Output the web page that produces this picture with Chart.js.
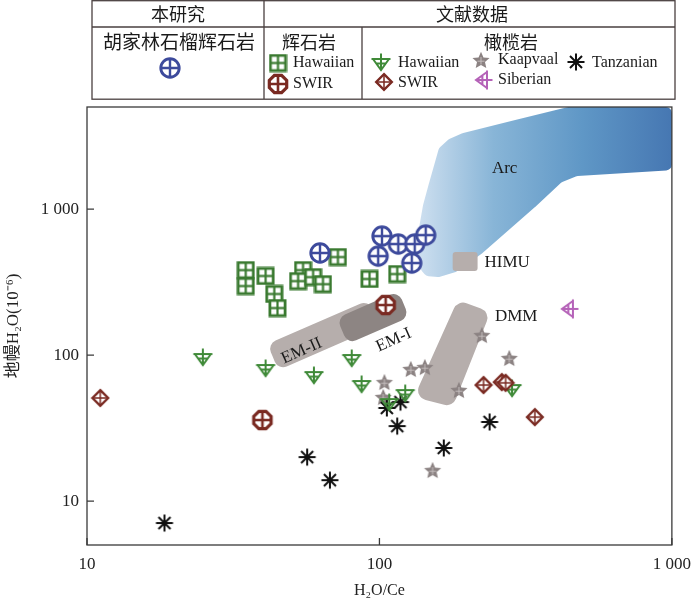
<!DOCTYPE html>
<html>
<head>
<meta charset="utf-8">
<script src="https://cdn.jsdelivr.net/npm/chart.js@4.4.1/dist/chart.umd.min.js"></script>
<style>
  html, body { margin: 0; padding: 0; background: #fff; }
  #wrap { width: 700px; height: 603px; }
</style>
</head>
<body>
<div id="wrap"><canvas id="chart" width="700" height="603"></canvas></div>
<script>
// tick labels
const xTicks = [10, 100, 1000];
const yTicks = [10, 100, 1000];
const tickText = { 10: '10', 100: '100', 1000: '1 000' };

// 本研究 胡家林石榴辉石岩
const thisStudyX = [62.6, 102, 116, 132, 144, 99, 129];
const thisStudyY = [500, 653, 576, 576, 663, 476, 427];

// 辉石岩 Hawaiian / SWIR
const pyxHawX = [34.9, 34.9, 40.8, 43.7, 44.8, 54.8, 52.7, 59.3, 64.1, 72.1, 92.5, 115];
const pyxHawY = [382, 297, 348, 262, 210, 382, 321, 342, 306, 469, 332, 359];
const pyxSwirX = [105, 39.8];
const pyxSwirY = [220, 35.9];

// 橄榄岩
const periHawX = [24.9, 40.8, 59.7, 80.4, 86.9, 122.5, 284, 108];
const periHawY = [96.9, 81.5, 72.9, 95.4, 63.3, 54.9, 59.4, 47.6];
const periSwirX = [11.1, 227, 262, 270, 340];
const periSwirY = [50.8, 62.3, 65.3, 64.5, 37.6];
const kaapX = [224, 278, 128, 143, 104, 103, 187, 152];
const kaapY = [137, 95.4, 80.2, 82.7, 65.3, 51.6, 57.6, 16.3];
const sibX = [448];
const sibY = [207];
const tanzX = [18.4, 56.6, 67.7, 106, 118, 115, 238, 166];
const tanzY = [7.07, 20.0, 13.9, 43.4, 47.6, 32.6, 34.8, 23.1];

// reservoir fields (data space)
const arcX = [138.8, 134.5, 135.6, 141.0, 147.8, 159.8, 172.8, 192.7, 291.3, 440.8, 1000, 1000, 472.8, 420.5, 340.6, 269.5, 225.2, 182.4, 159.8, 144.3];
const arcY = [382.1, 523.9, 684.8, 1065, 1507, 2617, 3017, 3315, 4070, 5000, 5000, 1850, 1683, 1530, 1032, 684.8, 499.4, 370.3, 342.1, 347.6];
const himuX = [178, 216.6, 216.6, 178];
const himuY = [508, 508, 376, 376];
const dmmX = [185.2, 239.8, 178.1, 131.4];
const dmmY = [238.1, 197.0, 44.05, 51.6];
const em2X = [41.4, 91.8, 100, 45.1];
const em2Y = [119, 238, 158, 78.9];
const em1X = [71.5, 116, 126.4, 77.9];
const em1Y = [179, 274, 182, 119];

const fieldLabels = [
    { text: 'Arc', x: 268, y: 1909, rot: 0, align: 'center' },
    { text: 'HIMU', x: 228.7, y: 433.6, rot: 0, align: 'left' },
    { text: 'DMM', x: 293.6, y: 185, rot: 0, align: 'center' },
    { text: 'EM-II', x: 54.2, y: 106.5, rot: -24, align: 'center' },
    { text: 'EM-I', x: 112, y: 126.6, rot: -24, align: 'center' }
];

const serif = '"Liberation Serif", "Times New Roman", serif';
const cjk = '"Liberation Serif", "Noto Sans CJK SC", serif';

function toPoints(xs, ys) {
    return xs.map((x, i) => ({ x: x, y: ys[i] }));
}

function makeCanvas(size, draw) {
    const c = document.createElement('canvas');
    c.width = size;
    c.height = size;
    const ctx = c.getContext('2d');
    draw(ctx, size / 2);
    return c;
}

const mkCircle = makeCanvas(24, (ctx, c) => {
    ctx.strokeStyle = '#3d4a9c';
    ctx.fillStyle = '#fff';
    ctx.lineWidth = 2.9;
    ctx.beginPath();
    ctx.arc(c, c, 9.2, 0, Math.PI * 2);
    ctx.fill();
    ctx.stroke();
    ctx.lineWidth = 2.4;
    ctx.beginPath();
    ctx.moveTo(c - 9, c); ctx.lineTo(c + 9, c);
    ctx.moveTo(c, c - 9); ctx.lineTo(c, c + 9);
    ctx.stroke();
});

const mkSquare = makeCanvas(19, (ctx) => {
    ctx.fillStyle = '#3a7a30';
    ctx.fillRect(0.5, 0.5, 18, 18);
    ctx.fillStyle = '#fff';
    ctx.fillRect(3.3, 3.3, 5.1, 5.1);
    ctx.fillRect(10.6, 3.3, 5.1, 5.1);
    ctx.fillRect(3.3, 10.6, 5.1, 5.1);
    ctx.fillRect(10.6, 10.6, 5.1, 5.1);
});

const mkOctagon = makeCanvas(24, (ctx, c) => {
    ctx.strokeStyle = '#7a2a22';
    ctx.fillStyle = '#fff';
    ctx.lineWidth = 3.2;
    ctx.beginPath();
    for (let i = 0; i < 8; i++) {
        const a = Math.PI / 8 + i * Math.PI / 4;
        const px = c + 9.4 * Math.cos(a);
        const py = c + 9.4 * Math.sin(a);
        if (i === 0) ctx.moveTo(px, py); else ctx.lineTo(px, py);
    }
    ctx.closePath();
    ctx.fill();
    ctx.stroke();
    ctx.lineWidth = 2.6;
    ctx.beginPath();
    ctx.moveTo(c - 8.5, c); ctx.lineTo(c + 8.5, c);
    ctx.moveTo(c, c - 8.5); ctx.lineTo(c, c + 8.5);
    ctx.stroke();
});

const mkDiamond = makeCanvas(20, (ctx, c) => {
    ctx.strokeStyle = '#7a2a22';
    ctx.fillStyle = '#fff';
    ctx.lineWidth = 2.4;
    ctx.beginPath();
    ctx.moveTo(c, c - 7.8); ctx.lineTo(c + 7.8, c); ctx.lineTo(c, c + 7.8); ctx.lineTo(c - 7.8, c);
    ctx.closePath();
    ctx.fill();
    ctx.stroke();
    ctx.lineWidth = 1.5;
    ctx.beginPath();
    ctx.moveTo(c - 6.5, c); ctx.lineTo(c + 6.5, c);
    ctx.moveTo(c, c - 6.5); ctx.lineTo(c, c + 6.5);
    ctx.stroke();
});

function drawTri(ctx, c, color) {
    ctx.strokeStyle = color;
    ctx.lineWidth = 2;
    ctx.beginPath();
    ctx.moveTo(c - 9.5, c - 3); ctx.lineTo(c + 9.5, c - 3);
    ctx.moveTo(c - 8, c - 3); ctx.lineTo(c, c + 8); ctx.lineTo(c + 8, c - 3);
    ctx.moveTo(c, c - 8.5); ctx.lineTo(c, c + 8);
    ctx.moveTo(c - 5.2, c + 1.6); ctx.lineTo(c + 5.2, c + 1.6);
    ctx.stroke();
}

const mkTriDown = makeCanvas(22, (ctx, c) => drawTri(ctx, c, '#3f8a38'));

const mkTriLeft = makeCanvas(22, (ctx, c) => {
    ctx.translate(c, c);
    ctx.rotate(Math.PI / 2);
    ctx.translate(-c, -c);
    drawTri(ctx, c, '#b562b8');
});

const mkStar = makeCanvas(20, (ctx, c) => {
    ctx.fillStyle = '#8b8282';
    ctx.beginPath();
    for (let i = 0; i < 10; i++) {
        const r = i % 2 === 0 ? 9 : 4.2;
        const a = -Math.PI / 2 + i * Math.PI / 5;
        const px = c + r * Math.cos(a);
        const py = c + 0.8 + r * Math.sin(a);
        if (i === 0) ctx.moveTo(px, py); else ctx.lineTo(px, py);
    }
    ctx.closePath();
    ctx.fill();
    ctx.strokeStyle = '#cbc4c4';
    ctx.lineWidth = 0.9;
    ctx.beginPath();
    ctx.moveTo(c - 3.5, c + 1.2); ctx.lineTo(c + 3.5, c + 1.2);
    ctx.moveTo(c, c - 3); ctx.lineTo(c, c + 4.5);
    ctx.stroke();
});

const mkAsterisk = makeCanvas(20, (ctx, c) => {
    ctx.strokeStyle = '#111';
    ctx.lineWidth = 2;
    ctx.beginPath();
    for (let i = 0; i < 4; i++) {
        const a = i * Math.PI / 4;
        const dx = 8.5 * Math.cos(a), dy = 8.5 * Math.sin(a);
        ctx.moveTo(c - dx, c - dy);
        ctx.lineTo(c + dx, c + dy);
    }
    ctx.stroke();
    ctx.fillStyle = '#111';
    ctx.beginPath();
    ctx.arc(c, c, 2.4, 0, Math.PI * 2);
    ctx.fill();
});

function roundedPath(ctx, pts, r) {
    const n = pts.length;
    ctx.beginPath();
    const m0 = [(pts[n - 1][0] + pts[0][0]) / 2, (pts[n - 1][1] + pts[0][1]) / 2];
    ctx.moveTo(m0[0], m0[1]);
    for (let i = 0; i < n; i++) {
        const p = pts[i];
        const q = pts[(i + 1) % n];
        ctx.arcTo(p[0], p[1], q[0], q[1], r);
    }
    ctx.closePath();
}

const fieldsPlugin = {
    id: 'fields',
    beforeDatasetsDraw(chart) {
        const { ctx, chartArea, scales } = chart;
        const px = (xs, ys) => xs.map((x, i) => [scales.x.getPixelForValue(x), scales.y.getPixelForValue(ys[i])]);
        ctx.save();
        ctx.beginPath();
        ctx.rect(chartArea.left, chartArea.top, chartArea.right - chartArea.left, chartArea.bottom - chartArea.top);
        ctx.clip();

        const arc = px(arcX, arcY);
        const x0 = Math.min(...arc.map(p => p[0]));
        const grad = ctx.createLinearGradient(x0, 0, chartArea.right, 0);
        grad.addColorStop(0, '#cfe0f0');
        grad.addColorStop(0.3, '#88b5d7');
        grad.addColorStop(0.65, '#5f97c6');
        grad.addColorStop(1, '#4677b2');
        ctx.fillStyle = grad;
        roundedPath(ctx, arc, 6);
        ctx.fill();

        ctx.fillStyle = '#b6aeac';
        roundedPath(ctx, px(himuX, himuY), 3);
        ctx.fill();
        roundedPath(ctx, px(dmmX, dmmY), 10);
        ctx.fill();
        roundedPath(ctx, px(em2X, em2Y), 9);
        ctx.fill();
        ctx.fillStyle = '#8d8583';
        roundedPath(ctx, px(em1X, em1Y), 9);
        ctx.fill();

        ctx.fillStyle = '#1a1a1a';
        ctx.font = '17px ' + serif;
        ctx.textBaseline = 'middle';
        fieldLabels.forEach(l => {
            ctx.save();
            ctx.translate(scales.x.getPixelForValue(l.x), scales.y.getPixelForValue(l.y));
            ctx.rotate(l.rot * Math.PI / 180);
            ctx.textAlign = l.align;
            ctx.fillText(l.text, 0, 0);
            ctx.restore();
        });
        ctx.restore();
    },
    afterDraw(chart) {
        const { ctx, chartArea, scales } = chart;
        ctx.save();
        // frame and inner ticks
        ctx.strokeStyle = '#3a3a3a';
        ctx.lineWidth = 1.3;
        ctx.strokeRect(chartArea.left, chartArea.top, chartArea.right - chartArea.left, chartArea.bottom - chartArea.top);
        ctx.beginPath();
        yTicks.forEach(v => {
            const y = scales.y.getPixelForValue(v);
            ctx.moveTo(chartArea.left, y);
            ctx.lineTo(chartArea.left + 7, y);
        });
        xTicks.forEach(v => {
            const x = scales.x.getPixelForValue(v);
            ctx.moveTo(x, chartArea.bottom);
            ctx.lineTo(x, chartArea.bottom - 7);
        });
        ctx.stroke();

        // legend table
        ctx.strokeStyle = '#4a4040';
        ctx.lineWidth = 1.3;
        ctx.strokeRect(92, 0.7, 583, 98.5);
        ctx.beginPath();
        ctx.moveTo(92, 27); ctx.lineTo(675, 27);
        ctx.moveTo(264, 0); ctx.lineTo(264, 99);
        ctx.moveTo(362, 27); ctx.lineTo(362, 99);
        ctx.stroke();

        ctx.fillStyle = '#1a1a1a';
        ctx.textBaseline = 'middle';
        ctx.textAlign = 'center';
        ctx.font = '18px "Noto Sans CJK SC", sans-serif';
        ctx.fillText('本研究', 178, 14);
        ctx.fillText('文献数据', 472, 14);
        ctx.fillText('辉石岩', 309, 42);
        ctx.fillText('橄榄岩', 511, 42);
        ctx.font = '19px "Noto Sans CJK SC", sans-serif';
        ctx.fillText('胡家林石榴辉石岩', 179, 42);

        const mark = (img, x, y) => ctx.drawImage(img, x - img.width / 2, y - img.height / 2);
        mark(mkCircle, 170, 68);
        mark(mkSquare, 278, 63);
        mark(mkOctagon, 278, 84);
        mark(mkTriDown, 381, 62);
        mark(mkDiamond, 384, 82);
        mark(mkStar, 481, 60);
        mark(mkTriLeft, 484, 80);
        mark(mkAsterisk, 576, 62);

        ctx.textAlign = 'left';
        ctx.font = '16px ' + serif;
        ctx.fillText('Hawaiian', 293, 63);
        ctx.fillText('SWIR', 293, 84);
        ctx.fillText('Hawaiian', 398, 63);
        ctx.fillText('SWIR', 398, 83);
        ctx.fillText('Kaapvaal', 498, 60);
        ctx.fillText('Siberian', 498, 80);
        ctx.fillText('Tanzanian', 592, 63);
        ctx.restore();
    }
};

function series(label, xs, ys, style) {
    return {
        label: label,
        data: toPoints(xs, ys),
        pointStyle: style,
        pointRadius: 8,
        pointHoverRadius: 8,
        showLine: false
    };
}

new Chart(document.getElementById('chart'), {
    type: 'scatter',
    data: {
        datasets: [
            series('胡家林石榴辉石岩', thisStudyX, thisStudyY, mkCircle),
            series('辉石岩 SWIR', pyxSwirX, pyxSwirY, mkOctagon),
            series('辉石岩 Hawaiian', pyxHawX, pyxHawY, mkSquare),
            series('橄榄岩 Siberian', sibX, sibY, mkTriLeft),
            series('橄榄岩 SWIR', periSwirX, periSwirY, mkDiamond),
            series('橄榄岩 Hawaiian', periHawX, periHawY, mkTriDown),
            series('橄榄岩 Tanzanian', tanzX, tanzY, mkAsterisk),
            series('橄榄岩 Kaapvaal', kaapX, kaapY, mkStar)
        ]
    },
    options: {
        responsive: false,
        animation: false,
        layout: { padding: { left: 0, top: 107, right: 23, bottom: 0 } },
        plugins: { legend: { display: false }, tooltip: { enabled: false } },
        scales: {
            x: {
                type: 'logarithmic',
                min: 10,
                max: 1000,
                afterBuildTicks: s => { s.ticks = xTicks.map(v => ({ value: v })); },
                afterFit: s => { s.height = 58; },
                grid: { display: false, drawTicks: false },
                border: { display: false },
                ticks: {
                    padding: 9,
                    maxRotation: 0,
                    autoSkip: false,
                    color: '#222',
                    font: { family: serif, size: 17 },
                    callback: v => tickText[v] || ''
                },
                title: {
                    display: true,
                    text: 'H₂O/Ce',
                    color: '#222',
                    font: { family: serif, size: 16 },
                    padding: { top: 4, bottom: 3 }
                }
            },
            y: {
                type: 'logarithmic',
                min: 5,
                max: 5000,
                afterBuildTicks: s => { s.ticks = yTicks.map(v => ({ value: v })); },
                afterFit: s => { s.width = 87; },
                grid: { display: false, drawTicks: false },
                border: { display: false },
                ticks: {
                    padding: 8,
                    autoSkip: false,
                    color: '#222',
                    font: { family: serif, size: 17 },
                    callback: v => tickText[v] || ''
                },
                title: {
                    display: true,
                    text: '地幔H₂O(10⁻⁶)',
                    color: '#222',
                    font: { family: cjk, size: 17 },
                    padding: { top: 3, bottom: 0 }
                }
            }
        }
    },
    plugins: [fieldsPlugin]
});
</script>
</body>
</html>
